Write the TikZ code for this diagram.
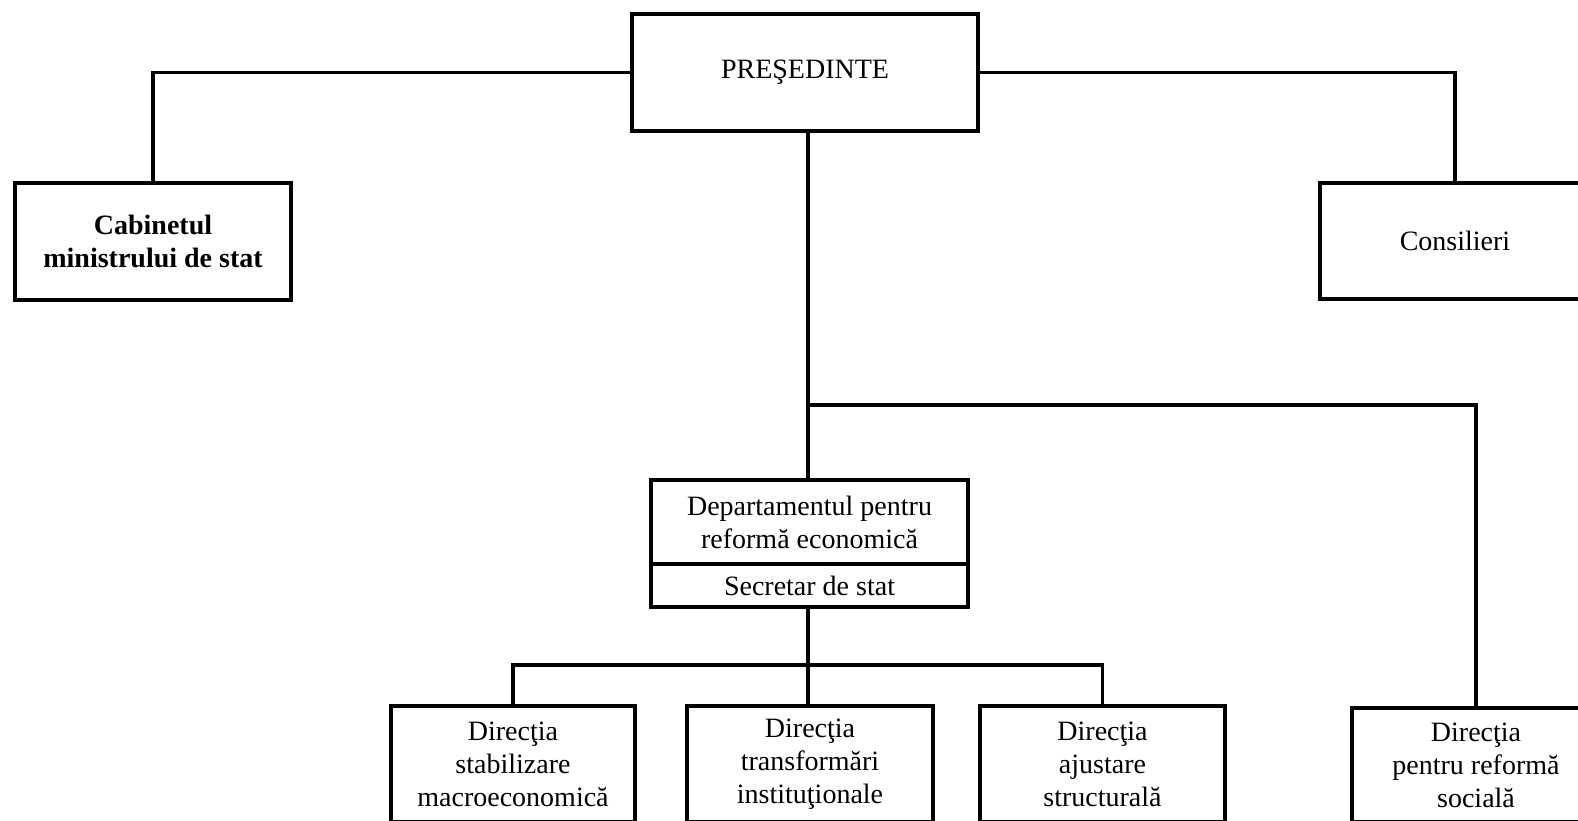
\documentclass[tikz,border=0pt]{standalone}
\usepackage{fontspec}
\setmainfont{Liberation Serif}
\begin{document}
\begin{tikzpicture}[x=0.5pt,y=-0.5pt,
  box/.style={draw, line width=1.7pt, align=center, inner sep=0pt,
    font=\fontsize{14}{16.5}\selectfont},
  conn/.style={line width=1.7pt}]
\clip (0,0) rectangle (1578,820);
\fill[white] (0,0) rectangle (1578,820);
% boxes
\node[box, minimum width=173pt, minimum height=58.5pt] (pres) at (805,72.5) {PREŞEDINTE};
\node[box, minimum width=138pt, minimum height=58.5pt, font=\fontsize{14}{16.5}\selectfont\bfseries] (cab) at (153,241.5) {Cabinetul\\ministrului de stat};
\node[box, minimum width=135pt, minimum height=58pt] (cons) at (1455,241) {Consilieri};
\node[box, minimum width=158.5pt, minimum height=42pt] (dept) at (809.5,522) {Departamentul pentru\\reformă economică};
\node[box, minimum width=158.5pt, minimum height=21.5pt] (secr) at (809.5,585.5) {Secretar de stat};
\node[box, minimum width=122pt, minimum height=58pt] (b1) at (513,764) {Direcţia\\stabilizare\\macroeconomică};
\node[box, minimum width=123pt, minimum height=58pt] (b2) at (810,764) {Direcţia\\transformări\\instituţionale};
\node[box, minimum width=122.5pt, minimum height=58pt] (b3) at (1102.5,764) {Direcţia\\ajustare\\structurală};
\node[box, minimum width=124pt, minimum height=57pt] (b4) at (1476,765) {Direcţia\\pentru reformă\\socială};
% junctions
\coordinate (j1) at (808,405);
\coordinate (j2) at (808,665);
% connectors
\draw[conn] (pres.west) -| (cab.north);
\draw[conn] (pres.east) -| (cons.north);
\draw[conn] (pres.south -| j1) -- (j1) -- (dept.north -| j1);
\draw[conn] (j1) -| (b4.north);
\draw[conn] (secr.south -| j2) -- (j2);
\draw[conn] (b1.north) |- (j2) -| (b3.north);
\draw[conn] (j2) -- (b2.north -| j2);
\end{tikzpicture}
\end{document}
